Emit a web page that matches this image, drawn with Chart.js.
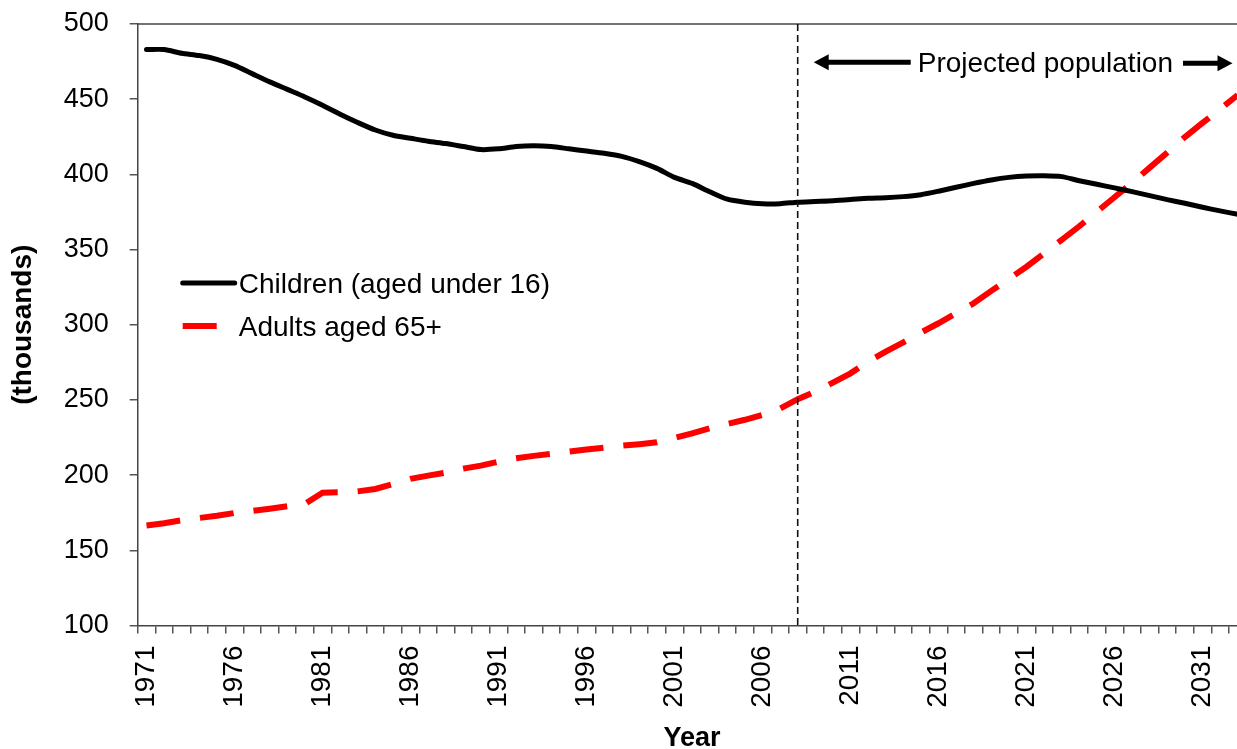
<!DOCTYPE html>
<html lang="en">
<head>
  <meta charset="UTF-8" />
  <title>Children and older adults population</title>
  <script src="https://cdn.jsdelivr.net/npm/chart.js"></script>
  <style>
    html, body { margin: 0; padding: 0; background: #fff; overflow: hidden; }
    /* plot runs a few px past the window edge, like the original */
    .chart-container { width: 1250px; height: 749px; }
  </style>
</head>
<body>
  <div class="chart-container">
    <canvas id="popChart"></canvas>
  </div>

  <script>
    // Years on the x axis
    const years = [
      '1971','1972','1973','1974','1975','1976','1977','1978','1979','1980',
      '1981','1982','1983','1984','1985','1986','1987','1988','1989','1990',
      '1991','1992','1993','1994','1995','1996','1997','1998','1999','2000',
      '2001','2002','2003','2004','2005','2006','2007','2008','2009','2010',
      '2011','2012','2013','2014','2015','2016','2017','2018','2019','2020',
      '2021','2022','2023','2024','2025','2026','2027','2028','2029','2030',
      '2031','2032','2033'
    ];

    // Population, thousands
    const children = [
      483, 483, 480.5, 479, 476.5, 472.5, 467, 461.5, 456.5, 451.5,
      446, 440, 434.5, 429.5, 426, 424, 422, 420.5, 418.5, 416.5,
      417, 418.5, 419, 418.5, 417, 415.5, 414, 412, 408.5, 404,
      398, 394, 388.5, 383.5, 381.5, 380.5, 380.5, 381.5, 382, 382.5,
      383.3, 384.2, 384.5, 385.2, 386.5, 388.8, 391.4, 394, 396.3, 398,
      398.9, 399.1, 398.5, 395.8, 393.4, 391, 388.5, 385.9, 383.2, 380.8,
      378.1, 375.7, 373.5
    ];
    const adults65 = [
      166.5, 168, 170, 171.5, 173, 174.8, 176.2, 177.7, 179.3, 180.8,
      188.3, 188.6, 189.2, 190.8, 194, 197.5, 199.7, 201.7, 204.3, 206.3,
      209, 211.2, 212.8, 214.1, 215.6, 217, 218.3, 219.6, 220.6, 221.8,
      224.7, 227.8, 231.1, 234, 236.8, 240, 244.3, 250.5, 255.5, 261.5,
      267.7, 275.5, 282.1, 288.3, 294.8, 301, 307.6, 314.3, 322.5, 330.5,
      338.6, 347.5, 356.4, 365.5, 375.2, 384.8, 394.5, 404.5, 414.6, 424.8,
      434.2, 443.4, 452.8
    ];

    const yTicks = [100, 150, 200, 250, 300, 350, 400, 450, 500];
    const projectionStart = '2008';
    const projectionLabel = 'Projected population';
    const seriesNames = ['Children (aged under 16)', 'Adults aged 65+'];

    const FONT = "'Liberation Sans', Arial, sans-serif";

    // Frame top, projection divider, arrow note and legend
    const extrasPlugin = {
      id: 'extras',
      afterDatasetsDraw(chart) {
        const { ctx, chartArea: area, scales: { x, y } } = chart;
        ctx.save();

        // top border of the plot
        ctx.strokeStyle = '#444';
        ctx.lineWidth = 1.5;
        ctx.beginPath();
        ctx.moveTo(area.left, area.top);
        ctx.lineTo(area.right, area.top);
        ctx.stroke();

        // dashed divider at start of projection
        const xDiv = x.getPixelForValue(years.indexOf(projectionStart));
        ctx.strokeStyle = '#111';
        ctx.lineWidth = 1.6;
        ctx.setLineDash([7, 4]);
        ctx.beginPath();
        ctx.moveTo(xDiv, area.top);
        ctx.lineTo(xDiv, area.bottom);
        ctx.stroke();
        ctx.setLineDash([]);

        // "<--- Projected population --->"
        const ay = y.getPixelForValue(474.5);
        const leftTip = xDiv + 16;
        const rightTip = area.right - 14;
        ctx.font = '28px ' + FONT;
        ctx.fillStyle = '#000';
        ctx.textBaseline = 'middle';
        ctx.textAlign = 'left';
        const textLeft = leftTip + 104;
        const textW = ctx.measureText(projectionLabel).width;
        ctx.fillText(projectionLabel, textLeft, ay + 2);

        ctx.strokeStyle = '#000';
        ctx.lineWidth = 5;
        ctx.beginPath();
        ctx.moveTo(leftTip + 12, ay);
        ctx.lineTo(textLeft - 7, ay);
        ctx.moveTo(textLeft + textW + 10, ay + 1);
        ctx.lineTo(rightTip - 12, ay + 1);
        ctx.stroke();
        ctx.beginPath();
        ctx.moveTo(leftTip, ay);
        ctx.lineTo(leftTip + 15, ay - 8);
        ctx.lineTo(leftTip + 15, ay + 8);
        ctx.closePath();
        ctx.moveTo(rightTip, ay + 1);
        ctx.lineTo(rightTip - 15, ay - 7);
        ctx.lineTo(rightTip - 15, ay + 9);
        ctx.closePath();
        ctx.fill();

        // legend
        const lx = area.left + 45;
        const rows = [area.top + 259, area.top + 302];
        chart.data.datasets.forEach((ds, i) => {
          const ly = rows[i];
          ctx.strokeStyle = ds.borderColor;
          ctx.lineWidth = ds.borderWidth;
          ctx.lineCap = ds.borderCapStyle || 'butt';
          ctx.setLineDash(ds.borderDash || []);
          ctx.beginPath();
          ctx.moveTo(lx, ly);
          ctx.lineTo(lx + 52, ly);
          ctx.stroke();
          ctx.setLineDash([]);
          ctx.lineCap = 'butt';
          ctx.fillStyle = '#000';
          ctx.font = '28px ' + FONT;
          ctx.fillText(ds.label, lx + 56, ly + 2);
        });

        ctx.restore();
      }
    };

    const ctx = document.getElementById('popChart').getContext('2d');

    const popChart = new Chart(ctx, {
      type: 'line',
      data: {
        labels: years,
        datasets: [
          {
            label: seriesNames[0],
            data: children,
            borderColor: '#000000',
            borderWidth: 5,
            borderCapStyle: 'round',
            borderJoinStyle: 'round',
            tension: 0.25,
            pointRadius: 0,
            fill: false
          },
          {
            label: seriesNames[1],
            data: adults65,
            borderColor: '#ff0000',
            borderWidth: 6,
            borderDash: [34, 20],
            tension: 0,
            pointRadius: 0,
            fill: false
          }
        ]
      },
      options: {
        responsive: true,
        maintainAspectRatio: false,
        animation: false,
        layout: { padding: { top: 24, right: 3.5, bottom: 0, left: 0 } },
        plugins: {
          legend: { display: false },
          tooltip: { enabled: false }
        },
        scales: {
          x: {
            type: 'category',
            offset: true,
            grid: {
              offset: true,
              drawOnChartArea: false,
              drawTicks: true,
              tickLength: 8,
              tickColor: '#555',
              lineWidth: 1.5
            },
            border: { color: '#444', width: 1.5 },
            ticks: {
              autoSkip: false,
              maxRotation: 90,
              minRotation: 90,
              padding: 12,
              color: '#000',
              font: { family: FONT, size: 28 },
              callback: function (val, index) {
                return index % 5 === 0 ? years[index] : '';
              }
            },
            title: {
              display: true,
              text: 'Year',
              color: '#000',
              font: { family: FONT, size: 27, weight: 'bold' },
              padding: { top: 0, bottom: -6 }
            },
            afterFit(scale) {
              scale.height = 123.5;
              scale.paddingLeft = 0;
              scale.paddingRight = 0;
            }
          },
          y: {
            min: 100,
            max: 500,
            afterBuildTicks(scale) {
              scale.ticks = yTicks.map(v => ({ value: v }));
            },
            grid: {
              drawOnChartArea: false,
              drawTicks: true,
              tickLength: 8,
              tickColor: '#555',
              lineWidth: 1.5
            },
            border: { color: '#444', width: 1.5 },
            ticks: {
              padding: 21,
              color: '#000',
              font: { family: FONT, size: 27 }
            },
            title: {
              display: true,
              text: '(thousands)',
              color: '#000',
              font: { family: FONT, size: 28, weight: 'bold' },
              padding: { top: 6, bottom: 0 }
            },
            afterFit(scale) {
              scale.width = 137.7;
              scale.paddingTop = 0;
              scale.paddingBottom = 0;
            }
          }
        }
      },
      plugins: [extrasPlugin]
    });
  </script>
</body>
</html>
